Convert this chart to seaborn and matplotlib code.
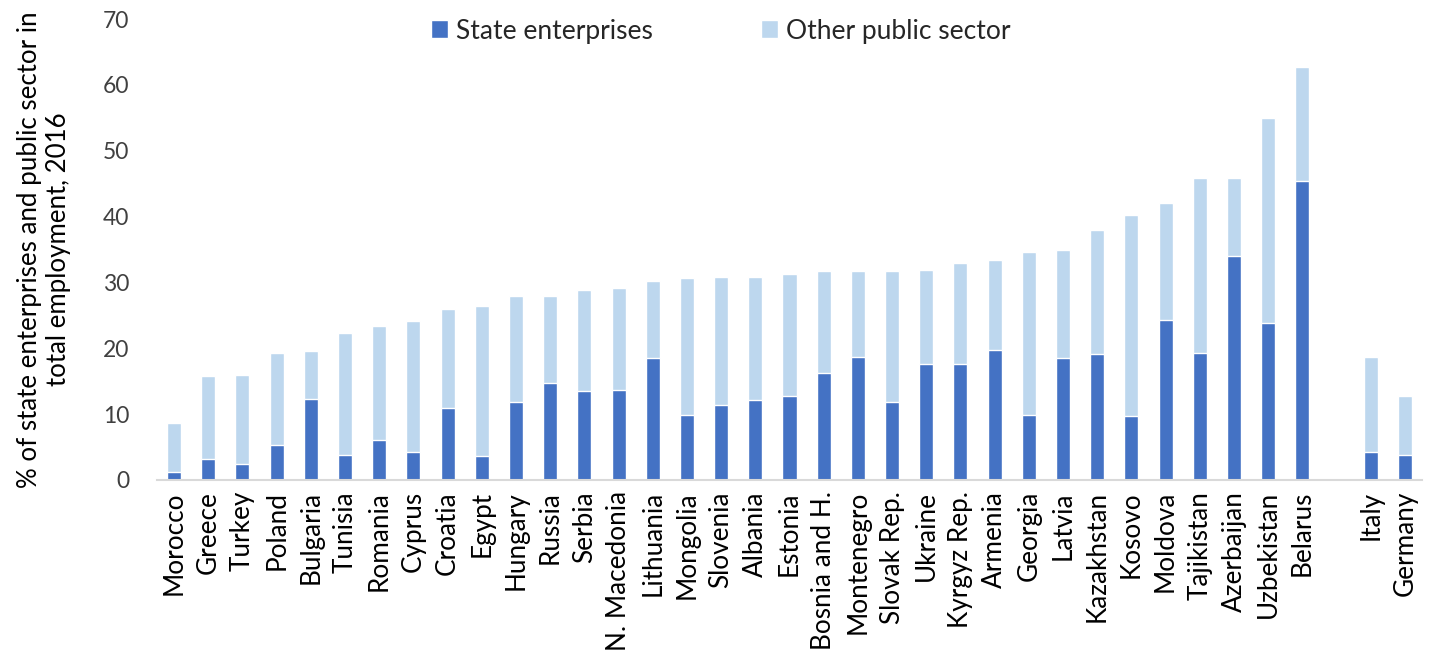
import matplotlib
matplotlib.use("Agg")
import matplotlib.pyplot as plt
import seaborn as sns
import pandas as pd
import numpy as np

countries = ["Morocco", "Greece", "Turkey", "Poland", "Bulgaria", "Tunisia", "Romania",
             "Cyprus", "Croatia", "Egypt", "Hungary", "Russia", "Serbia", "N. Macedonia",
             "Lithuania", "Mongolia", "Slovenia", "Albania", "Estonia", "Bosnia and H.",
             "Montenegro", "Slovak Rep.", "Ukraine", "Kyrgyz Rep.", "Armenia", "Georgia",
             "Latvia", "Kazakhstan", "Kosovo", "Moldova", "Tajikistan", "Azerbaijan",
             "Uzbekistan", "Belarus", "Italy", "Germany"]
state_enterprises = [1.2, 3.2, 2.4, 5.3, 12.3, 3.8, 6.1, 4.3, 10.9, 3.6, 11.8, 14.7, 13.5, 13.7,
                     18.5, 9.9, 11.4, 12.1, 12.8, 16.2, 18.7, 11.8, 17.6, 17.6, 19.7, 9.9,
                     18.5, 19.1, 9.7, 24.3, 19.3, 34.0, 23.8, 45.4, 4.3, 3.8]
total_public = [8.6, 15.8, 15.9, 19.3, 19.6, 22.3, 23.4, 24.1, 26.0, 26.4, 27.9, 27.9, 28.8, 29.2,
                30.2, 30.7, 30.8, 30.8, 31.3, 31.7, 31.7, 31.7, 31.9, 33.0, 33.4, 34.6,
                34.9, 38.0, 40.2, 42.1, 45.9, 45.9, 55.0, 62.7, 18.7, 12.8]
other_public = [round(t - s, 1) for t, s in zip(total_public, state_enterprises)]

series_names = ["State enterprises", "Other public sector"]
y_ticks = [0, 10, 20, 30, 40, 50, 60, 70]
y_label = "% of state enterprises and public sector in\ntotal employment, 2016"

df = pd.DataFrame({"country": countries, "state": state_enterprises,
                   "other": other_public})
df["total"] = df["state"] + df["other"]

gap = " "
order = countries[:34] + [gap] + countries[34:]

dark = "#4472C4"
light = "#BDD7EE"

sns.set_theme(style="white")
plt.rcParams["font.family"] = ["Lato", "DejaVu Sans"]

fig = plt.figure(figsize=(14.37, 6.59), dpi=100)
ax = fig.add_axes([157 / 1437, 1 - 480 / 659, (1422 - 157) / 1437, (480 - 19) / 659])

sns.barplot(data=df, x="country", y="total", order=order, color=light, width=0.41,
            saturation=1, ax=ax, label=series_names[1], errorbar=None)
sns.barplot(data=df, x="country", y="state", order=order, color=dark, width=0.41,
            saturation=1, ax=ax, label=series_names[0], errorbar=None)

ax.set_ylim(0, 70)
ax.set_xlim(-0.5, len(order) - 0.5)
ax.set_yticks(y_ticks)
ax.set_yticklabels([str(v) for v in y_ticks], fontsize=16.5, color="#404040")
ax.tick_params(axis="y", length=0, pad=20)
ax.tick_params(axis="x", length=0, pad=8)
ax.set_xticks(range(len(order)))
ax.set_xticklabels(order, rotation=90, fontsize=18.8, color="#000000")
ax.set_xlabel("")
ax.set_ylabel(y_label, fontsize=18.6, color="#000000", linespacing=1.2)
ax.yaxis.set_label_coords(-0.068, 0.5)

for side in ["top", "right", "left"]:
    ax.spines[side].set_visible(False)
ax.spines["bottom"].set_color("#D9D9D9")
ax.spines["bottom"].set_linewidth(1.5)
ax.grid(False)

handles, labels = ax.get_legend_handles_labels()
hmap = dict(zip(labels, handles))
if ax.get_legend() is not None:
    ax.get_legend().remove()
fig.legend([hmap[series_names[0]], hmap[series_names[1]]], series_names,
           loc="center", bbox_to_anchor=(721 / 1437, 1 - 31 / 659), ncol=2,
           frameon=False, fontsize=19, handlelength=0.65, handleheight=0.65,
           handletextpad=0.3, columnspacing=4.1)

fig.savefig("out.png", dpi=100)
